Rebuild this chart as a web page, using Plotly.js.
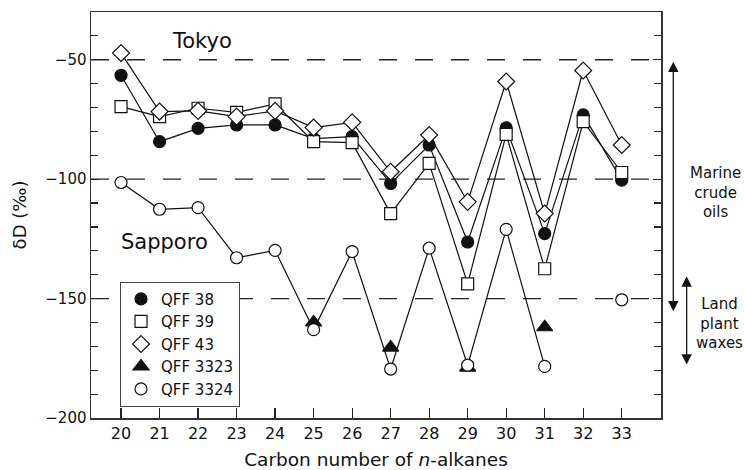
<!DOCTYPE html>
<html>
<head>
<meta charset="utf-8">
<script src="https://cdn.plot.ly/plotly-3.0.1.min.js"></script>
<style>html,body{margin:0;padding:0;background:#fff;}#chart{width:744px;height:470px;}</style>
</head>
<body>
<div id="chart"></div>
<script>
// Carbon numbers of n-alkanes
const carbon = [20, 21, 22, 23, 24, 25, 26, 27, 28, 29, 30, 31, 32, 33];
// δD values (‰)
const qff38   = [-56.5, -84.3, -78.7, -77.3, -77.3, -83.0, -82.2, -101.8, -85.7, -126.3, -78.5, -122.8, -73.1, -100.4];
const qff39   = [-69.6, -73.8, -70.3, -72.0, -68.5, -84.3, -84.7, -114.4, -93.4, -143.8, -81.2, -137.5, -75.9, -97.2];
const qff43   = [-47.2, -71.7, -71.4, -73.8, -71.4, -78.4, -76.2, -96.9, -81.5, -109.5, -59.1, -114.4, -54.5, -85.7];
const qff3323 = [null, null, null, null, null, -160.0, null, -170.5, null, -178.9, null, -162.0, null, null];
const qff3324 = [-101.4, -112.6, -111.9, -132.9, -129.8, -163.0, -130.3, -179.5, -128.9, -177.9, -121.0, -178.4, null, -150.5];
const seriesNames = ['QFF 38', 'QFF 39', 'QFF 43', 'QFF 3323', 'QFF 3324'];
const xTickVals = [20, 21, 22, 23, 24, 25, 26, 27, 28, 29, 30, 31, 32, 33];
const yTickVals = [-200, -150, -100, -50];
const refLines = [-50, -100, -150];

const FONT = 'DejaVu Sans, Liberation Sans, Arial, sans-serif';
const lineStyle = {color: '#111', width: 1.2};

function lineTrace(y) {
  return {x: carbon, y: y, mode: 'lines', line: lineStyle, showlegend: false,
          connectgaps: false, hoverinfo: 'skip', cliponaxis: false};
}
function markerTrace(y, name, symbol, size, fill) {
  return {x: carbon, y: y, mode: 'markers', name: name, cliponaxis: false,
          marker: {symbol: symbol, size: size, color: fill, line: {color: '#111', width: 1.2}}};
}

const data = [
  lineTrace(qff38),   markerTrace(qff38,   seriesNames[0], 'circle', 12, '#111'),
  lineTrace(qff39),   markerTrace(qff39,   seriesNames[1], 'square', 12, '#fff'),
  lineTrace(qff43),   markerTrace(qff43,   seriesNames[2], 'diamond', 13, '#fff'),
  markerTrace(qff3323, seriesNames[3], 'triangle-up', 14, '#111'),
  lineTrace(qff3324), markerTrace(qff3324, seriesNames[4], 'circle', 12, '#fff')
];

const shapes = refLines.map(v => ({
  type: 'line', xref: 'paper', x0: 0, x1: 1, yref: 'y', y0: v, y1: v,
  line: {color: '#222', width: 1.3, dash: '18px,18px'}, layer: 'below'
}));

const annotations = [
  {text: 'Tokyo', x: 22.1, y: -42, xref: 'x', yref: 'y', showarrow: false, font: {size: 21, family: FONT, color: '#111'}},
  {text: 'Sapporo', x: 21.14, y: -126.5, xref: 'x', yref: 'y', showarrow: false, font: {size: 21, family: FONT, color: '#111'}},
  {text: 'Marine<br>crude<br>oils', x: 1.0956, y: -105.7, xref: 'paper', yref: 'y', xanchor: 'center', yanchor: 'middle', showarrow: false, font: {size: 15, family: FONT, color: '#111'}},
  {text: 'Land<br>plant<br>waxes', x: 1.1018, y: -160.3, xref: 'paper', yref: 'y', xanchor: 'center', yanchor: 'middle', showarrow: false, font: {size: 15, family: FONT, color: '#111'}},
  {text: ' ', xref: 'paper', yref: 'y', x: 1.0216, y: -50.8, axref: 'pixel', ayref: 'y', ax: 0, ay: -158.9,
   showarrow: true, arrowhead: 2, startarrowhead: 2, arrowside: 'end+start', arrowsize: 1.6, startarrowsize: 1.6, arrowwidth: 1.3, arrowcolor: '#111', standoff: 0, startstandoff: 0},
  {text: ' ', xref: 'paper', yref: 'y', x: 1.045, y: -140.7, axref: 'pixel', ayref: 'y', ax: 0, ay: -181.2,
   showarrow: true, arrowhead: 2, startarrowhead: 2, arrowside: 'end+start', arrowsize: 1.6, startarrowsize: 1.6, arrowwidth: 1.3, arrowcolor: '#111', standoff: 0, startstandoff: 0}
];

const layout = {
  width: 744, height: 470,
  margin: {l: 91, r: 83, t: 12, b: 52},
  paper_bgcolor: '#fff', plot_bgcolor: '#fff',
  font: {family: FONT, color: '#111'},
  showlegend: true,
  legend: {x: 0.0509, y: 0.3357, xanchor: 'left', yanchor: 'top', bgcolor: '#fff',
           bordercolor: '#444', borderwidth: 1, font: {size: 15, family: FONT, color: '#111'}},
  xaxis: {
    range: [19.22, 34.02], tickvals: xTickVals, ticktext: xTickVals.map(String),
    ticks: 'inside', ticklen: 10, tickwidth: 1.2, tickcolor: '#222',
    showline: true, linecolor: '#333', linewidth: 1.5, mirror: true,
    showgrid: false, zeroline: false, automargin: false,
    tickfont: {size: 16, family: FONT, color: '#111'},
    title: {text: 'Carbon number of <i>n</i>-alkanes', font: {size: 18.5, family: FONT, color: '#111'}, standoff: 16}
  },
  yaxis: {
    range: [-200, -30], tickvals: yTickVals, ticktext: yTickVals.map(v => (v < 0 ? '\u2212' : '') + Math.abs(v)),
    ticks: 'inside', ticklen: 8, tickwidth: 1.2, tickcolor: '#222',
    minor: {dtick: 10, tick0: 0, ticks: 'inside', ticklen: 7, tickwidth: 1.2, tickcolor: '#222', showgrid: false},
    showline: true, linecolor: '#333', linewidth: 1.5, mirror: 'ticks',
    showgrid: false, zeroline: false, automargin: false,
    tickfont: {size: 15, family: FONT, color: '#111'},
    title: {text: 'δD (‰)', font: {size: 18, family: FONT, color: '#111'}, standoff: 14}
  },
  shapes: shapes,
  annotations: annotations
};

Plotly.newPlot('chart', data, layout, {displayModeBar: false, staticPlot: true});
</script>
</body>
</html>
